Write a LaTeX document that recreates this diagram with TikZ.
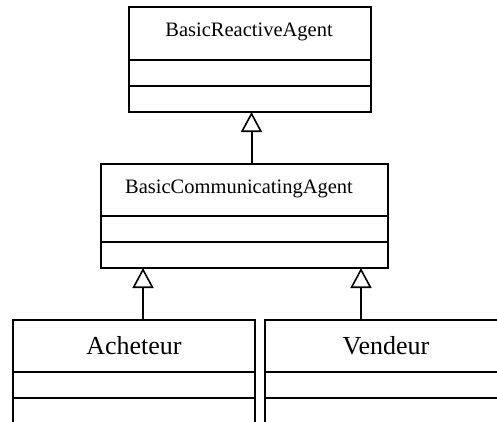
\documentclass[tikz,border=0pt]{standalone}
\usepackage{fontspec}
\setmainfont{Liberation Serif}
\usetikzlibrary{arrows.meta}
\tikzset{
  comp/.style={draw, line width=2pt, inner sep=0pt, outer sep=0pt, anchor=north west},
  inh/.style={line width=2pt, -{Triangle[open, length=20pt, width=21pt, fill=white, line width=1.6pt]}},
  smallfont/.style={font=\fontsize{20.5}{24}\selectfont},
  bigfont/.style={font=\fontsize{26}{30}\selectfont}
}
\begin{document}
\begin{tikzpicture}[x=1pt,y=-1pt]
\useasboundingbox (0,0) rectangle (497,421);
\clip (0,0) rectangle (497,421);
% BasicReactiveAgent
\node[comp, minimum width=242pt, minimum height=53pt] (brt) at (129,7) {};
\node[smallfont] (brtl) at (249,32) {BasicReactiveAgent};
\node[comp, minimum width=242pt, minimum height=26pt] (bra) at (129,60) {};
\node[comp, minimum width=242pt, minimum height=26pt] (bro) at (129,86) {};
% BasicCommunicatingAgent
\node[comp, minimum width=287pt, minimum height=52pt] (bct) at (101,164) {};
\node[smallfont] (bctl) at (239,189) {BasicCommunicatingAgent};
\node[comp, minimum width=287pt, minimum height=26pt] (bca) at (101,216) {};
\node[comp, minimum width=287pt, minimum height=26pt] (bco) at (101,242) {};
% Acheteur
\node[comp, minimum width=242pt, minimum height=52pt] (act) at (13,320) {};
\node[bigfont] (actl) at (134,346) {Acheteur};
\node[comp, minimum width=242pt, minimum height=26pt] (aca) at (13,372) {};
\node[comp, minimum width=242pt, minimum height=26pt] (aco) at (13,398) {};
% Vendeur
\node[comp, minimum width=242pt, minimum height=52pt] (vet) at (265,320) {};
\node[bigfont] (vetl) at (386,346) {Vendeur};
\node[comp, minimum width=242pt, minimum height=26pt] (vea) at (265,372) {};
\node[comp, minimum width=242pt, minimum height=26pt] (veo) at (265,398) {};
% inheritance
\coordinate (xa) at (251.5,0);
\coordinate (xb) at (143,0);
\coordinate (xc) at (361,0);
\draw[inh] (bct.north -| xa) -- (bro.south -| xa);
\draw[inh] (act.north -| xb) -- (bco.south -| xb);
\draw[inh] (vet.north -| xc) -- (bco.south -| xc);
\end{tikzpicture}
\end{document}
